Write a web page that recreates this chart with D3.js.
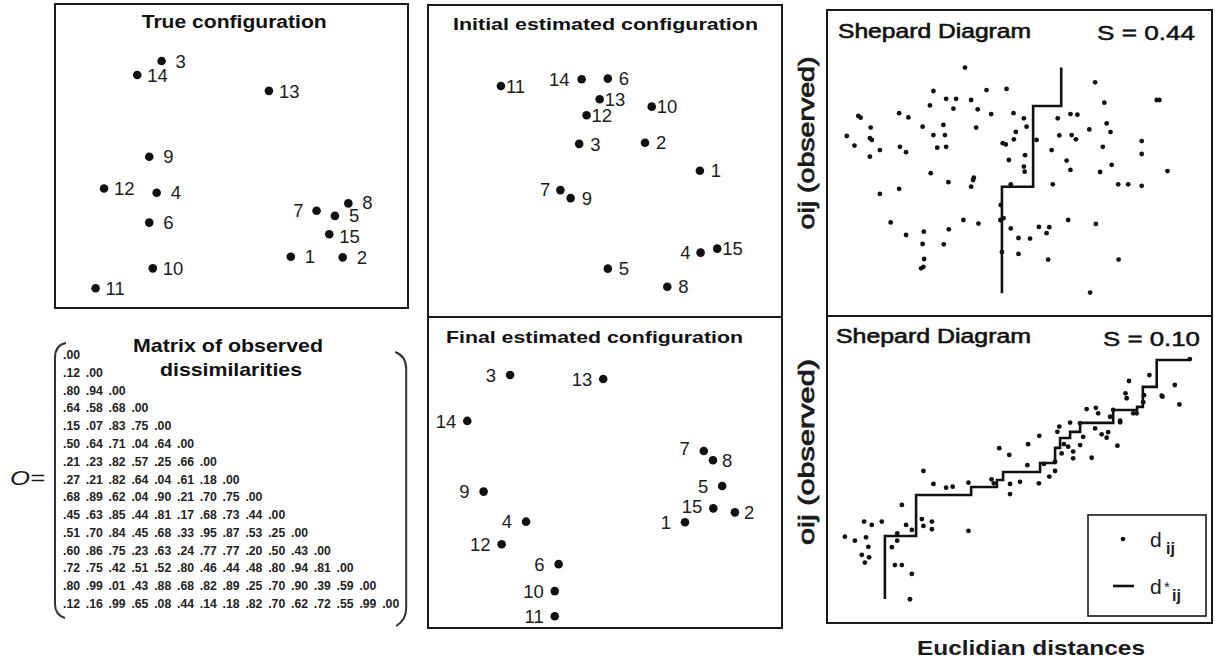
<!DOCTYPE html>
<html><head><meta charset="utf-8">
<script src="https://cdn.jsdelivr.net/npm/d3@7"></script>
<style>
html,body{margin:0;padding:0;background:#fff;}
svg{display:block;font-family:"Liberation Sans",Arial,Helvetica,sans-serif;}
</style></head><body>
<svg id="chart" width="1215" height="661"></svg>
<script>
// ---------------- DATA ----------------
const pointIds = [1,2,3,4,5,6,7,8,9,10,11,12,13,14,15];

// configurations (arbitrary units 0-100)
const trueX    = [66.8,81.5,30.2,28.8,79.3,26.7,74.1,83.1,26.7,27.7,11.5,13.9,60.6,23.3,77.7];
const trueY    = [16.8,16.6,81.0,37.8,30.2,28.0,31.9,34.3,49.6,13.0, 6.5,39.2,71.2,76.4,24.2];
const initialX = [76.8,61.3,42.7,77.0,50.8,50.8,37.4,67.6,40.3,63.2,20.6,44.8,48.5,43.4,81.7];
const initialY = [46.2,55.3,54.9,19.6,14.4,76.1,39.9, 8.5,37.3,67.0,73.7,64.2,69.4,75.9,20.9];
const finalX   = [72.6,86.7,23.2,27.7,83.1,36.9,77.9,80.5,15.7,35.8,35.8,20.8,49.5,11.1,80.6];
const finalY   = [34.1,37.3,81.6,34.3,45.8,20.6,57.1,54.1,44.0,11.9, 3.8,27.0,80.3,66.8,38.6];

// matrix of observed dissimilarities (lower triangle)
const matrixRows = [
  ".00",
  ".12 .00",
  ".80 .94 .00",
  ".64 .58 .68 .00",
  ".15 .07 .83 .75 .00",
  ".50 .64 .71 .04 .64 .00",
  ".21 .23 .82 .57 .25 .66 .00",
  ".27 .21 .82 .64 .04 .61 .18 .00",
  ".68 .89 .62 .04 .90 .21 .70 .75 .00",
  ".45 .63 .85 .44 .81 .17 .68 .73 .44 .00",
  ".51 .70 .84 .45 .68 .33 .95 .87 .53 .25 .00",
  ".60 .86 .75 .23 .63 .24 .77 .77 .20 .50 .43 .00",
  ".72 .75 .42 .51 .52 .80 .46 .44 .48 .80 .94 .81 .00",
  ".80 .99 .01 .43 .88 .68 .82 .89 .25 .70 .90 .39 .59 .00",
  ".12 .16 .99 .65 .08 .44 .14 .18 .82 .70 .62 .72 .55 .99 .00"
];

// Shepard diagram, initial configuration (S = 0.44)
const topDist = [0.355,0.693,0.273,0.411,0.463,0.306,0.332,0.371,0.853,0.860,0.264,0.325,0.388,0.717,0.078,0.084,0.184,0.208,0.423,0.481,
  0.508,0.596,0.629,0.647,0.110,0.245,0.299,0.384,0.515,0.723,0.678,0.048,0.108,0.113,0.273,0.303,0.487,0.482,0.541,0.600,
  0.632,0.643,0.733,0.814,0.068,0.134,0.186,0.202,0.283,0.306,0.461,0.453,0.580,0.713,0.108,0.511,0.814,0.469,0.619,0.508,
  0.510,0.629,0.736,0.266,0.378,0.376,0.706,0.881,0.312,0.371,0.474,0.583,0.753,0.779,0.814,0.134,0.184,0.448,0.162,0.351,
  0.390,0.447,0.455,0.623,0.695,0.474,0.547,0.574,0.248,0.313,0.202,0.494,0.524,0.567,0.245,0.300,0.451,0.494,0.249,0.571,
  0.754,0.241,0.247,0.680];
const topObs = [0.808,0.759,0.730,0.733,0.737,0.704,0.704,0.700,0.700,0.700,0.682,0.671,0.669,0.691,0.647,0.641,0.656,0.642,0.653,0.656,
  0.639,0.639,0.653,0.651,0.608,0.611,0.617,0.608,0.611,0.622,0.602,0.580,0.573,0.567,0.583,0.583,0.594,0.569,0.567,0.582,
  0.583,0.569,0.593,0.563,0.548,0.533,0.544,0.526,0.541,0.544,0.552,0.556,0.533,0.544,0.511,0.516,0.520,0.500,0.498,0.478,
  0.461,0.467,0.484,0.456,0.441,0.433,0.460,0.463,0.426,0.411,0.419,0.419,0.419,0.419,0.414,0.387,0.404,0.350,0.292,0.300,
  0.288,0.300,0.306,0.300,0.287,0.272,0.277,0.276,0.261,0.269,0.250,0.240,0.238,0.256,0.220,0.219,0.193,0.187,0.170,0.168,
  0.168,0.139,0.144,0.058];
const topFitX = [0.451,0.451,0.532,0.605];
const topFitY = [0.056,0.411,0.680,0.808];

// Shepard diagram, final configuration (S = 0.10)
const botDist = [0.043,0.069,0.093,0.113,0.139,0.098,0.104,0.087,0.106,0.095,0.173,0.191,0.217,0.212,0.191,0.202,0.179,0.165,0.179,0.217,
  0.243,0.247,0.269,0.269,0.364,0.247,0.273,0.306,0.323,0.364,0.424,0.430,0.444,0.470,0.472,0.472,0.498,0.519,0.517,0.547,
  0.548,0.574,0.589,0.600,0.595,0.628,0.654,0.612,0.623,0.606,0.636,0.636,0.654,0.684,0.671,0.695,0.701,0.662,0.693,0.710,
  0.727,0.723,0.751,0.740,0.758,0.775,0.781,0.772,0.801,0.818,0.820,0.834,0.866,0.900,0.912,0.939,0.868,0.732,0.589,0.560,
  0.792,0.758];
const botObs = [0.281,0.268,0.330,0.319,0.330,0.279,0.248,0.222,0.214,0.197,0.189,0.189,0.160,0.078,0.384,0.319,0.292,0.247,0.268,0.303,
  0.338,0.316,0.330,0.305,0.300,0.494,0.452,0.440,0.443,0.456,0.467,0.454,0.568,0.546,0.452,0.419,0.459,0.581,0.513,0.454,
  0.608,0.476,0.494,0.638,0.621,0.651,0.649,0.581,0.573,0.551,0.557,0.535,0.578,0.537,0.695,0.699,0.681,0.605,0.632,0.613,
  0.620,0.602,0.576,0.692,0.652,0.730,0.786,0.746,0.681,0.717,0.740,0.805,0.738,0.773,0.710,0.857,0.735,0.670,0.524,0.517,
  0.681,0.657];
const botFitX = [0.147,0.147,0.228,0.371,0.438,0.454,0.550,0.589,0.602,0.628,0.654,0.740,0.802,0.817,0.853,0.939];
const botFitY = [0.079,0.283,0.416,0.442,0.465,0.491,0.520,0.569,0.601,0.621,0.650,0.692,0.702,0.767,0.854,0.854];

// ---------------- LAYOUT ----------------
const svg = d3.select("#chart");
const INK = "#111";

function txt(x, y, s, o = {}) {
  const t = svg.append("text").attr("x", x).attr("y", y).text(s)
    .attr("font-size", o.size || 16)
    .attr("font-weight", o.weight || "normal")
    .attr("font-style", o.style || "normal")
    .attr("fill", o.fill || INK)
    .attr("text-anchor", o.anchor || "start");
  if (o.len) t.attr("textLength", o.len).attr("lengthAdjust", "spacingAndGlyphs");
  if (o.heavy) t.attr("stroke", o.fill || INK).attr("stroke-width", o.heavy);
  return t;
}
function frame(r, w = 2) {
  svg.append("rect").attr("x", r.x0).attr("y", r.y0)
    .attr("width", r.x1 - r.x0).attr("height", r.y1 - r.y0)
    .attr("fill", "none").attr("stroke", "#1a1a1a").attr("stroke-width", w);
}

// configuration panels
function configPanel(frameR, plotR, xs, ys, sides, defSide, gaps, nudge) {
  frame(frameR);
  const x = d3.scaleLinear().domain([0, 100]).range([plotR.x0, plotR.x1]);
  const y = d3.scaleLinear().domain([0, 100]).range([plotR.y1, plotR.y0]);
  const data = pointIds.map((id, i) => ({ id, x: xs[i], y: ys[i], side: sides[id] || defSide }));
  const g = svg.append("g");
  g.selectAll("circle").data(data).join("circle")
    .attr("cx", d => x(d.x)).attr("cy", d => y(d.y)).attr("r", 4.3).attr("fill", INK);
  g.selectAll("text").data(data).join("text")
    .attr("x", d => {
      const one = String(d.id).length === 1;
      return d.side === "r" ? x(d.x) + (one ? gaps.r1 : gaps.r2) : x(d.x) - (one ? gaps.l1 : gaps.l2);
    })
    .attr("y", d => y(d.y) + ((nudge && nudge[d.id]) || 0)).attr("dy", "0.36em")
    .attr("text-anchor", d => d.side === "r" ? "start" : "end")
    .attr("font-size", 18.5).attr("fill", "#1c1c1c")
    .text(d => d.id);
}

configPanel({x0:55,y0:4,x1:408,y1:308}, {x0:55,y0:3,x1:408,y1:308}, trueX, trueY,
  {7:"l"}, "r", {r1:14, r2:10, l1:13, l2:13}, {5:-1, 15:2, 8:-1});
configPanel({x0:428,y0:5,x1:782,y1:317}, {x0:428,y0:5,x1:782,y1:313}, initialX, initialY,
  {14:"l", 7:"l", 4:"l"}, "r", {r1:11, r2:5, l1:10, l2:12}, {7:-1});
configPanel({x0:428,y0:317,x1:782,y1:628}, {x0:428,y0:318,x1:782,y1:628}, finalX, finalY,
  {8:"r", 2:"r"}, "l", {r1:9, r2:9, l1:14, l2:11}, {7:-3, 15:-2});

txt(141.7, 28, "True configuration", {size:18, weight:"bold", len:185});
txt(453, 30, "Initial estimated configuration", {size:17, weight:"bold", len:305});
txt(446, 343, "Final estimated configuration", {size:17, weight:"bold", len:297});

// Shepard panels
function shepard(frameR, plotR, dist, obs, fitX, fitY) {
  frame(frameR);
  const x = d3.scaleLinear().domain([0, 1]).range([plotR.x0, plotR.x1]);
  const y = d3.scaleLinear().domain([0, 1]).range([plotR.y1, plotR.y0]);
  const pts = dist.map((d, i) => ({ d, o: obs[i] }));
  const g = svg.append("g");
  g.selectAll("circle").data(pts).join("circle")
    .attr("cx", p => x(p.d)).attr("cy", p => y(p.o)).attr("r", 2.4).attr("fill", INK);
  const fit = fitX.map((v, i) => [v, fitY[i]]);
  g.append("path").datum(fit)
    .attr("d", d3.line().x(p => x(p[0])).y(p => y(p[1])).curve(d3.curveStepAfter))
    .attr("fill", "none").attr("stroke", INK).attr("stroke-width", 2.6);
}
shepard({x0:827,y0:10,x1:1212,y1:316}, {x0:828.3,y0:10,x1:1213.3,y1:310}, topDist, topObs, topFitX, topFitY);
shepard({x0:827,y0:316,x1:1212,y1:623}, {x0:828.3,y0:315,x1:1213.3,y1:623.3}, botDist, botObs, botFitX, botFitY);

txt(838, 38, "Shepard Diagram", {size:20, len:193, heavy:0.6});
txt(1097, 40, "S = 0.44", {size:21, len:98, heavy:0.5});
txt(836, 343, "Shepard Diagram", {size:20, len:195, heavy:0.6});
txt(1103, 346, "S = 0.10", {size:21, len:97, heavy:0.5});

// y-axis labels
[[143, 173], [452, 186]].forEach(([cy, len]) => {
  svg.append("text")
    .attr("transform", `translate(814,${cy}) rotate(-90)`)
    .attr("x", -len / 2).attr("y", 0)
    .attr("font-size", 22).attr("font-weight", "normal").attr("fill", "#1a1a1a")
    .attr("stroke", "#1a1a1a").attr("stroke-width", 0.8)
    .attr("textLength", len).attr("lengthAdjust", "spacingAndGlyphs")
    .text("oij  (observed)");
});
txt(917, 655, "Euclidian distances", {size:21, weight:"bold", len:228, fill:"#1a1a1a"});

// legend
svg.append("rect").attr("x", 1088).attr("y", 515).attr("width", 118).attr("height", 101)
  .attr("fill", "#fff").attr("stroke", "#1a1a1a").attr("stroke-width", 1.6);
svg.append("circle").attr("cx", 1123).attr("cy", 539).attr("r", 2.3).attr("fill", INK);
txt(1150, 547, "d", {size:21, fill:"#222"});
txt(1166, 554, "ij", {size:16, weight:"bold", fill:"#222"});
svg.append("line").attr("x1", 1113).attr("x2", 1134).attr("y1", 586).attr("y2", 586)
  .attr("stroke", INK).attr("stroke-width", 2.6);
txt(1150, 594, "d", {size:21, fill:"#222"});
txt(1164, 592, "*", {size:15, fill:"#222"});
txt(1172, 601, "ij", {size:16, weight:"bold", fill:"#222"});

// matrix
const colX = d3.scalePoint().domain(d3.range(15)).range([63, 63 + 14 * 22.8]);
const rowY = d3.scalePoint().domain(d3.range(15)).range([359, 608]);
const cells = [];
matrixRows.forEach((row, i) => row.split(" ").forEach((v, j) => cells.push({ i, j, v })));
svg.append("g").selectAll("text").data(cells).join("text")
  .attr("x", c => colX(c.j)).attr("y", c => rowY(c.i))
  .attr("font-size", 12).attr("font-weight", "bold").attr("fill", "#222")
  .attr("textLength", 17).attr("lengthAdjust", "spacingAndGlyphs")
  .text(c => c.v);

const bl = colX(0) - 8, br = colX(14) + 24, bt = rowY(0) - 16, bb = rowY(14) + 8;
svg.append("path")
  .attr("d", `M${bl + 11},${bt} Q${bl},${bt + 2} ${bl},${bt + 15} L${bl},${bb - 12} Q${bl},${bb - 1} ${bl + 10},${bb + 2}`)
  .attr("fill", "none").attr("stroke", "#333").attr("stroke-width", 2);
svg.append("path")
  .attr("d", `M${br - 11},${bt + 9} Q${br},${bt + 13} ${br},${bt + 26} L${br},${bb - 8} Q${br},${bb + 4} ${br - 10},${bb + 10}`)
  .attr("fill", "none").attr("stroke", "#333").attr("stroke-width", 2);

txt(133, 352, "Matrix of observed", {size:19, weight:"bold", len:190});
txt(160, 376, "dissimilarities", {size:19, weight:"bold", len:142});
txt(10, 485, "O=", {size:21, style:"italic", len:35, fill:"#1a1a1a"});
</script>
</body></html>
